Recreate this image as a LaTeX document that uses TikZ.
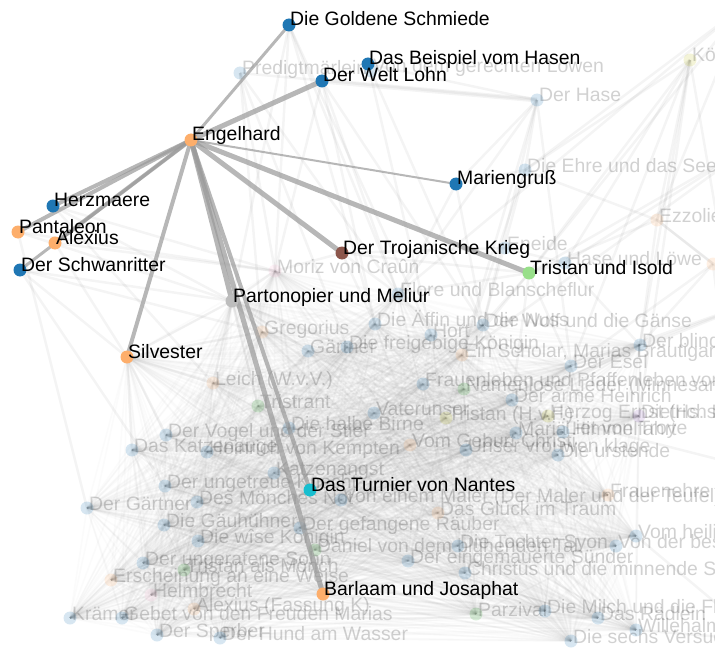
\documentclass[tikz,border=0pt]{standalone}
\usepackage{fontspec}
\setmainfont{Liberation Sans}
\definecolor{cB}{HTML}{1F77B4}
\definecolor{cO}{HTML}{FDAE6B}
\definecolor{cBr}{HTML}{8C564B}
\definecolor{cG}{HTML}{98DF8A}
\definecolor{cDG}{HTML}{2CA02C}
\definecolor{cT}{HTML}{17BECF}
\definecolor{cGr}{HTML}{BDBDBD}
\definecolor{cP}{HTML}{9467BD}
\definecolor{cK}{HTML}{F7B6D2}
\definecolor{cY}{HTML}{BCBD22}
\definecolor{edgegray}{HTML}{999999}
\begin{document}
\begin{tikzpicture}[x=1pt,y=-1pt,
  lab/.style={anchor=base west, inner sep=0pt, font=\fontsize{19.4}{22}\selectfont},
  fglab/.style={lab, text=black},
  bglab/.style={lab, text=black, text opacity=0.18},
  fgdot/.style={circle, inner sep=0pt, minimum size=13pt, fill=#1},
  bgdot/.style={circle, inner sep=0pt, minimum size=13pt, fill=#1, fill opacity=0.18},
  fgedge/.style={draw=edgegray, line width=#1, draw opacity=0.7},
  bgedge/.style={draw=gray, line width=#1, draw opacity=0.09},
  mesh/.style={draw=gray, line width=1.6pt, draw opacity=0.036},
]
\useasboundingbox (0,0) rectangle (715,650);
\clip (0,0) rectangle (715,650);

% ---------- positions of the faded works ----------
\def\bglist{
  p1/240/73/cB/Predigtmärlein,
  lw/371/71/cB/Von dem gerechten Löwen,
  ha/537/100/cB/Der Hase,
  ko/690/60/cY/König Rother,
  eh/525/170/cB/Die Ehre und das Seelenheil,
  ez/657/220/cO/Ezzolied,
  rx/713/264/cO/{},
  hl/565/263/cB/Hase und Löwe,
  ei/505/248/cB/Eneide,
  mo/275/271/cK/Moriz von Craûn,
  fl/398/294/cB/Flore und Blanscheflur,
  gr/262/332/cO/Gregorius,
  ga/308/351/cB/Gärtner,
  fk/347/347/cB/Die freigebige Königin,
  af/375/324/cB/Die Äffin und die Nuss,
  ho/431/335/cB/Hort,
  wo/483/325/cB/Der Wolf und die Gänse,
  sc/462/355/cO/{Ein Scholar, Marias Bräutigam},
  bl/640/345/cB/Der blinde Hausfreund,
  es/571/366/cB/Der Esel,
  fr/423/384/cB/Frauenleben und Pfaffenleben von Gott,
  na/464/389/cDG/Namenlose Lieder (Minnesang),
  ar/512/400/cB/Der arme Heinrich,
  he/548/416/cY/Herzog Ernst (Hs. D),
  di/639/416/cP/Dietrichs Flucht,
  tr/446/418/cY/Tristan (H.v.F.),
  va/374/413/cB/Vaterunser,
  le/213/383/cO/Leich (W.v.V.),
  ts/258/406/cDG/Tristrant,
  hb/289/428/cB/Die halbe Birne,
  vo/166/435/cB/Der Vogel und der Stier,
  kz/132/450/cB/Das Katzenauge,
  ke/207/452/cB/Heinrich von Kempten,
  vg/410/445/cO/Vom Geburt Christi,
  mh/516/433/cB/Mariä Himmelfahrt,
  lt/563/432/cB/Liet von Troye,
  uv/466/450/cB/Unser vrouwen klage,
  ur/558/455/cB/Die urstende,
  kt/274/473/cB/Katzenangst,
  ug/165/486/cB/Der ungetreue Knecht,
  gt/87/508/cB/Der Gärtner,
  dm/197/502/cB/Des Mönches Not,
  fe/608/495/cO/Frauenehre,
  ma/341/500/cB/Von einem Maler (Der Maler und der Teufel),
  gl/438/513/cO/Das Glück im Traum,
  gh/164/525/cB/Die Gäuhühner,
  rb/300/528/cB/Der gefangene Räuber,
  mk/198/541/cB/Die wîse Königin,
  vh/636/536/cB/Vom heiligen Geist,
  da/315/550/cDG/Daniel von dem blühenden Tal,
  ty/458/546/cB/Die Tochter Syon,
  vb/616/546/cB/Von der besten Frau,
  so/143/563/cB/Der ungeratene Sohn,
  su/408/561/cB/Der eingemauerte Sünder,
  tm/184/570/cDG/Tristan als Mönch,
  ch/465/573/cB/Christus und die minnende Seele,
  er/111/580/cO/Erscheinung an eine Weise,
  hm/151/595/cK/Helmbrecht,
  ak/194/609/cO/Alexius (Fassung K),
  mf/545/611/cB/Die Milch und die Fliegen,
  pz/476/614/cDG/Parzival,
  kr/70/618/cB/Krämer,
  ge/122/618/cB/Gebet von den Freuden Marias,
  rd/598/618/cB/Das Rädlein,
  wh/636/630/cB/Willehalm,
  sp/157/635/cB/Der Sperber,
  hu/220/638/cB/Der Hund am Wasser,
  sv/571/641/cB/Die sechs Versuchungen}

\foreach \n/\x/\y/\c/\t in \bglist { \coordinate (\n) at (\x,\y); }

% ---------- positions of the highlighted works ----------
\def\fglist{
  gs/289/25/cB/Die Goldene Schmiede,
  bh/368/64/cB/Das Beispiel vom Hasen,
  wl/322/81/cB/Der Welt Lohn,
  en/191/140/cO/Engelhard,
  mg/456/184/cB/Mariengruß,
  hz/53/206/cB/Herzmaere,
  pa/18/232/cO/Pantaleon,
  al/55/243/cO/Alexius,
  sr/20/270/cB/Der Schwanritter,
  tk/342/253/cBr/Der Trojanische Krieg,
  ti/529/273/cG/Tristan und Isold,
  pm/232/301/cGr/Partonopier und Meliur,
  si/127/357/cO/Silvester,
  tu/310/490/cT/Das Turnier von Nantes,
  ba/323/594/cO/Barlaam und Josaphat}

\foreach \n/\x/\y/\c/\t in \fglist { \coordinate (\n) at (\x,\y); }

% free ends of links that leave the frame
\coordinate (o1) at (745,5);
\coordinate (o2) at (760,140);
\coordinate (o3) at (760,300);
\coordinate (o4) at (760,470);
\coordinate (o5) at (760,640);

% ---------- faded links ----------
\draw[bgedge=5pt] (wl) -- (ha);
\foreach \a/\b in {gs/mo, gs/fl, gs/af, gs/pm, gs/ho, p1/ha, p1/mo, p1/fk, p1/fl, p1/gr,
  wl/fl, wl/af, wl/mo, wl/wo, bh/ha, bh/wo, bh/ho, ha/eh, ha/wo, ha/sc, ha/fl, ha/es,
  ko/eh, ko/ez, ko/bl, ko/di, ko/ti, ko/o4, ko/es, ko/hl, o1/ti, o1/ez, o1/eh, o1/fl,
  o2/hl, o2/sc, o2/ti, o3/bl, o3/es, o3/ar, o4/he, o5/vh, o5/wh,
  eh/mg, eh/wo, eh/ez, eh/sc, ez/ti, ez/bl, ez/o3, ez/rx, rx/bl, rx/es, rx/o5,
  tk/mo, tk/fl, tk/ei, tk/ti, tk/af, ti/wo, ti/sc, ti/fl, ti/hl, ti/es, ti/ar, ei/hl,
  mg/wo, mg/fl, mg/ha, hl/bl,
  pm/mo, pm/gr, pm/si, pm/le, pm/ga, pm/fk, pm/ts, si/le, si/gr, si/kz, si/vo,
  sr/pm, sr/gr, sr/si, pa/pm, pa/mo, al/mo, al/si, hz/mo, hz/pm, sr/ug, pa/gt, hz/le}
  { \draw[bgedge=2.5pt] (\a) -- (\b); }

% dense web in the lower half
\def\meshlist{mo,fl,gr,ga,fk,af,ho,wo,sc,bl,es,fr,na,ar,he,di,tr,va,le,ts,hb,vo,kz,ke,vg,mh,lt,uv,ur,kt,ug,gt,dm,fe,ma,gl,gh,rb,mk,vh,da,ty,vb,so,su,tm,ch,er,hm,ak,mf,pz,kr,ge,rd,wh,sp,hu,sv,pm,tu,ba,si}
\foreach \a [count=\i] in \meshlist {
  \foreach \b [count=\j] in \meshlist {
    \ifnum\j>\i \draw[mesh] (\a) -- (\b); \fi
  }
}

% ---------- faded works ----------
\foreach \n/\x/\y/\c/\t in \bglist {
  \node[bgdot=\c] (\n-dot) at (\n) {};
  \node[bglab] (\n-lab) at (\x+2,\y+2) {\t};
}

% ---------- links of Engelhard ----------
\foreach \b/\w in {gs/3pt, wl/5pt, mg/2pt, hz/4pt, pa/4pt, al/4pt, sr/3pt, si/4pt,
  pm/5pt, tu/4pt, ba/5pt, tk/5pt, ti/5pt}
  { \draw[fgedge=\w] (en) -- (\b); }

% ---------- highlighted works ----------
\foreach \n/\x/\y/\c/\t in \fglist {
  \node[fgdot=\c] (\n-dot) at (\n) {};
  \node[fglab] (\n-lab) at (\x+1,\y+1) {\t};
}
\end{tikzpicture}
\end{document}
